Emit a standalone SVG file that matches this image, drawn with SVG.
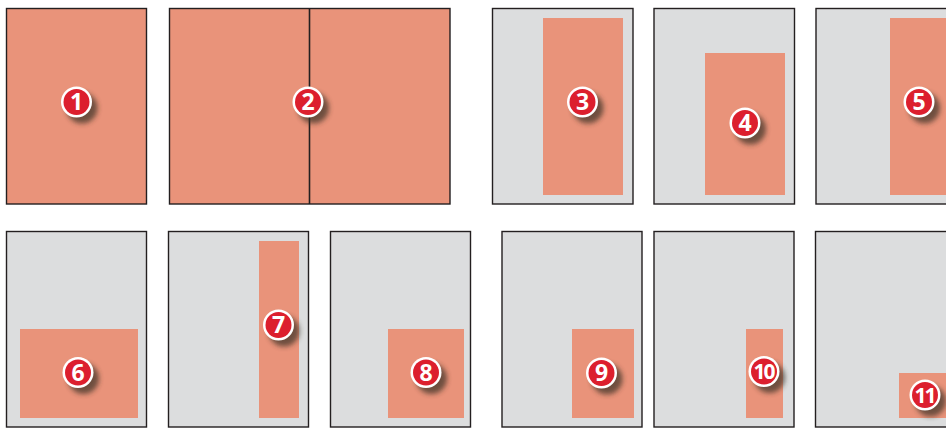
<svg xmlns="http://www.w3.org/2000/svg" width="946" height="428" viewBox="0 0 946 428">
<defs>
<filter id="sh" x="-50%" y="-50%" width="220%" height="220%"><feGaussianBlur stdDeviation="2.4"/></filter>
<g id="badge">
<circle cx="5.500" cy="6" r="15.500" fill="#3a3025" opacity=".7" filter="url(#sh)"/>
<circle r="15.500" fill="#fff"/>
<circle r="13" fill="#dc1f2e"/>
</g>
</defs>
<style>
.page{fill:#dcddde;stroke:#231f20;stroke-width:1.4}
.full{fill:#e9937a;stroke:#231f20;stroke-width:1.4}
.area{fill:#e9937a}
.n{font-family:"Open Sans","Liberation Sans",sans-serif;font-weight:700;font-size:23px;fill:#fff;text-anchor:middle}
.nn{font-size:21px;letter-spacing:-2px}
</style>
<g id="connectors"></g>
<g id="node1"><rect class="full" x="6.500" y="8.500" width="140" height="195.500"/><use href="#badge" x="76.500" y="102"/><text class="n" x="76.500" y="110">1</text></g>
<g id="node2"><rect class="full" x="169.500" y="8.500" width="280.500" height="195.500"/><path d="M309.500 8.500V204" stroke="#231f20" stroke-width="1.600" fill="none"/><use href="#badge" x="308" y="102"/><text class="n" x="308" y="110">2</text></g>
<g id="node3"><rect class="page" x="492.500" y="8.500" width="140.500" height="195.500"/><rect class="area" x="543" y="18" width="80" height="177"/><use href="#badge" x="582.500" y="102"/><text class="n" x="582.500" y="110">3</text></g>
<g id="node4"><rect class="page" x="654" y="8.500" width="140.500" height="195.500"/><rect class="area" x="705" y="53" width="80" height="142"/><use href="#badge" x="745" y="123"/><text class="n" x="745" y="131">4</text></g>
<g id="node5"><rect class="page" x="816" y="8.500" width="140.500" height="195.500"/><rect class="area" x="890" y="18" width="56" height="177"/><use href="#badge" x="919" y="102"/><text class="n" x="919" y="110">5</text></g>
<g id="node6"><rect class="page" x="6.500" y="231.500" width="140" height="195.500"/><rect class="area" x="20" y="329" width="118" height="89"/><use href="#badge" x="78" y="372.500"/><text class="n" x="78" y="380.500">6</text></g>
<g id="node7"><rect class="page" x="168.500" y="231.500" width="140" height="195.500"/><rect class="area" x="259" y="241" width="40" height="177"/><use href="#badge" x="278.500" y="325"/><text class="n" x="278.500" y="333">7</text></g>
<g id="node8"><rect class="page" x="330.500" y="231.500" width="140" height="195.500"/><rect class="area" x="388" y="329" width="76" height="89"/><use href="#badge" x="426" y="372.500"/><text class="n" x="426" y="380.500">8</text></g>
<g id="node9"><rect class="page" x="502" y="231.500" width="140" height="195.500"/><rect class="area" x="572" y="329" width="62" height="89"/><use href="#badge" x="601.500" y="373"/><text class="n" x="601.500" y="381">9</text></g>
<g id="node10"><rect class="page" x="654" y="231.500" width="140" height="195.500"/><rect class="area" x="746" y="329" width="37" height="89"/><use href="#badge" x="764" y="371.500"/><text class="n nn" x="763.500" y="379">10</text></g>
<g id="node11"><rect class="page" x="815.500" y="231.500" width="140" height="195.500"/><rect class="area" x="899" y="373" width="47" height="45"/><use href="#badge" x="925" y="395"/><text class="n nn" x="924.500" y="402.500">11</text></g>
</svg>
